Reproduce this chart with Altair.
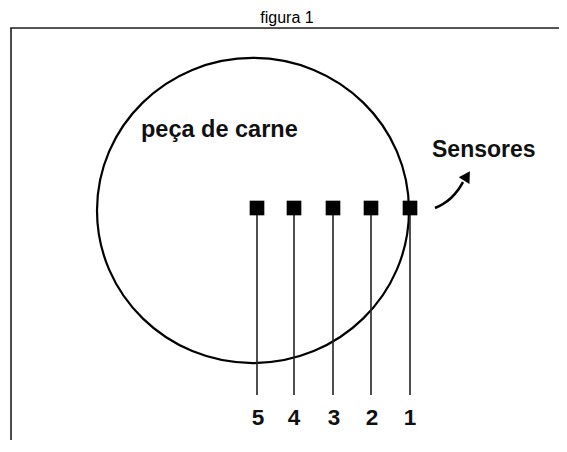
import altair as alt
import pandas as pd

# ---- diagram data (drawing coordinates, y grows downward) ----
title_text = ["figura 1"]
title_x = [287]
title_y = [23]

meat_label = ["peça de carne"]
meat_center_x = [253]
meat_center_y = [210.5]
meat_label_x = [141]
meat_label_y = [137]

sensor_ids = ["5", "4", "3", "2", "1"]
sensor_x = [257, 294, 333, 371, 410]
sensor_y = [208, 208, 208, 208, 208]
probe_end_y = [395, 395, 395, 395, 395]
label_x = [258, 294, 334, 372, 410]
label_y = [425, 425, 425, 425, 425]

sensors_label = ["Sensores"]
sensors_label_x = [432]
sensors_label_y = [157]

arrow_x = [435, 443, 451, 458, 463]
arrow_y = [208, 204, 198, 190, 182]
arrow_order = [0, 1, 2, 3, 4]
head_x = [467]
head_y = [176]

X_DOMAIN = [11, 559]
Y_DOMAIN = [28, 440]
PLOT_W = X_DOMAIN[1] - X_DOMAIN[0]
PLOT_H = Y_DOMAIN[1] - Y_DOMAIN[0]

xs = alt.Scale(domain=X_DOMAIN, nice=False, zero=False)
ys = alt.Scale(domain=Y_DOMAIN, nice=False, zero=False, reverse=True)


def X(f):
    return alt.X(f, type="quantitative", scale=xs, axis=None)


def Y(f):
    return alt.Y(f, type="quantitative", scale=ys, axis=None)


meat_df = pd.DataFrame({"x": meat_center_x, "y": meat_center_y, "t": meat_label,
                        "tx": meat_label_x, "ty": meat_label_y})
sens_df = pd.DataFrame({"id": sensor_ids, "x": sensor_x, "y": sensor_y, "y2": probe_end_y,
                        "lx": label_x, "ly": label_y})
slab_df = pd.DataFrame({"t": sensors_label, "x": sensors_label_x, "y": sensors_label_y})
arrow_df = pd.DataFrame({"x": arrow_x, "y": arrow_y, "o": arrow_order})
head_df = pd.DataFrame({"x": head_x, "y": head_y})
title_df = pd.DataFrame({"t": title_text, "x": title_x, "y": title_y})

# frame: left and top edges (right and bottom edges fall outside the picture)
frame_left = alt.Chart(title_df).mark_rule(color="#222", strokeWidth=1.6).encode(
    x=alt.value(0), y=alt.value(0), y2=alt.value(PLOT_H + 5)
)
frame_top = alt.Chart(title_df).mark_rule(color="#222", strokeWidth=1.6).encode(
    x=alt.value(-0.8), x2=alt.value(PLOT_W + 5), y=alt.value(0)
)

title = alt.Chart(title_df).mark_text(
    align="center", baseline="alphabetic", font="Liberation Sans",
    fontSize=16, color="#000"
).encode(x=X("x"), y=Y("y"), text="t:N")

ellipse = "M -1 0 A 1 0.978 0 1 1 1 0 A 1 0.978 0 1 1 -1 0 Z"

circle = alt.Chart(meat_df).mark_point(
    shape=ellipse, filled=False, stroke="#000", strokeWidth=2.2, size=312 ** 2, opacity=1
).encode(x=X("x"), y=Y("y"))

meat_text = alt.Chart(meat_df).mark_text(
    align="left", baseline="alphabetic", font="Liberation Sans", fontWeight="bold",
    fontSize=23.5, color="#111"
).encode(x=X("tx"), y=Y("ty"), text="t:N")

probes = alt.Chart(sens_df).mark_rule(color="#222", strokeWidth=1.6).encode(
    x=X("x"), y=Y("y"), y2="y2:Q"
)

squares = alt.Chart(sens_df).mark_square(size=215, color="#000", opacity=1).encode(
    x=X("x"), y=Y("y")
)

digits = alt.Chart(sens_df).mark_text(
    align="center", baseline="alphabetic",
    font="Liberation Sans",
    fontWeight="bold", fontSize=22.5, color="#111"
).encode(x=X("lx"), y=Y("ly"), text="id:N")

sens_text = alt.Chart(slab_df).mark_text(
    align="left", baseline="alphabetic", font="Liberation Sans", fontWeight="bold",
    fontSize=23, color="#111"
).encode(x=X("x"), y=Y("y"), text="t:N")

arrow = alt.Chart(arrow_df).mark_line(
    color="#000", strokeWidth=2.6, interpolate="monotone"
).encode(x=X("x"), y=Y("y"), order="o:Q")

head = alt.Chart(head_df).mark_point(
    shape="triangle-up", filled=True, color="#000", size=160, angle=32, opacity=1
).encode(x=X("x"), y=Y("y"))

chart = alt.layer(
    frame_left, frame_top, title, circle, probes, squares, digits, meat_text, sens_text, arrow, head
).properties(
    width=PLOT_W,
    height=PLOT_H,
    autosize=alt.AutoSizeParams(type="none"),
    padding={"left": 3, "top": 20, "right": 0, "bottom": 0},
).configure_view(stroke=None).configure(background="white")

chart.save("out.html", embed_options={"renderer": "svg", "actions": False})
